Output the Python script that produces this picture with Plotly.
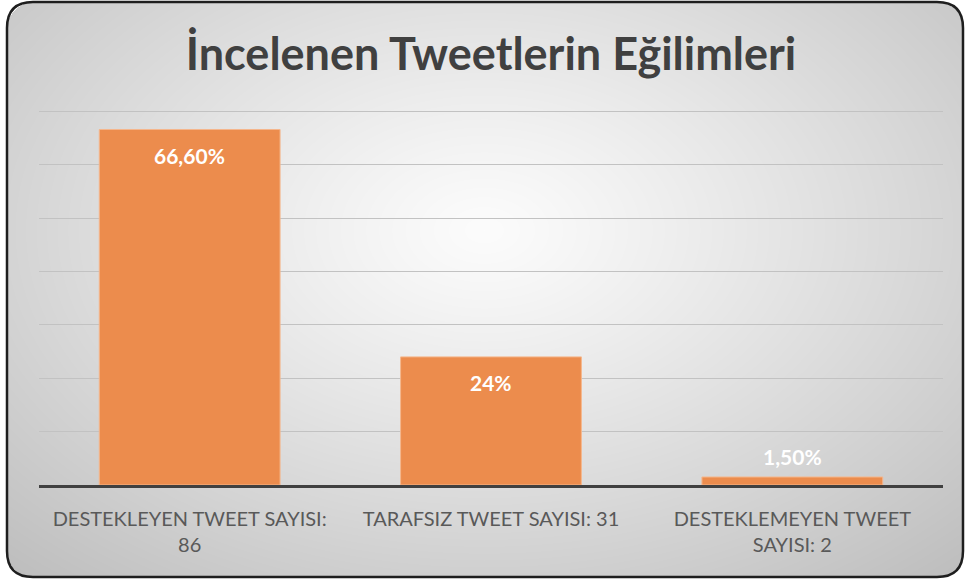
import base64, struct, zlib
import numpy as np
import plotly.graph_objects as go

categories = ["DESTEKLEYEN TWEET SAYISI:<br>86", "TARAFSIZ TWEET SAYISI: 31", "DESTEKLEMEYEN TWEET<br>SAYISI: 2"]
values = [66.6, 24.0, 1.5]
value_labels = ["66,60%", "24%", "1,50%"]
title_text = "İncelenen Tweetlerin Eğilimleri"

W, H = 968, 580
ML, MR, MT, MB = 39, 25, 106, 95
PW, PH = W - ML - MR, H - MT - MB
FONT = "Lato, Carlito, Calibri, sans-serif"


def px_to_paper(x, y):
    return (x - ML) / PW, 1 - (y - MT) / PH


def make_bg_png():
    yy, xx = np.mgrid[0:H, 0:W].astype(float)
    cx, cy = 484, 230
    r = np.sqrt(((xx - cx) / 500) ** 2 + ((yy - cy) / 330) ** 2)
    g = 252 - 42 * r ** 1.15
    g = np.clip(g, 0, 255)
    x0, y0, x1, y1, rad = 7, 2, 963, 577, 26
    dx = np.maximum(np.maximum(x0 + rad - xx, xx - (x1 - rad)), 0)
    dy = np.maximum(np.maximum(y0 + rad - yy, yy - (y1 - rad)), 0)
    inside = (dx ** 2 + dy ** 2) <= rad ** 2
    inside &= (xx >= x0) & (xx <= x1) & (yy >= y0) & (yy <= y1)
    a = np.where(inside, 255, 0)
    img = np.stack([g, g, g, a], axis=-1).astype(np.uint8)
    raw = b"".join(b"\x00" + img[i].tobytes() for i in range(H))

    def chunk(t, d):
        c = struct.pack(">I", len(d)) + t + d
        return c + struct.pack(">I", zlib.crc32(t + d) & 0xffffffff)

    png = b"\x89PNG\r\n\x1a\n" + chunk(b"IHDR", struct.pack(">IIBBBBB", W, H, 8, 6, 0, 0, 0))
    png += chunk(b"IDAT", zlib.compress(raw, 9)) + chunk(b"IEND", b"")
    return "data:image/png;base64," + base64.b64encode(png).decode()


fig = go.Figure()
fig.add_trace(go.Bar(
    x=categories, y=values, width=0.6,
    marker=dict(color="#EC8C4D", line=dict(color="#F5B78C", width=1)),
    hoverinfo="skip",
))

for c, v, t in zip(categories, values, value_labels):
    inside = v > 10
    fig.add_annotation(
        x=c, y=v, text=f"<b>{t}</b>", showarrow=False,
        yshift=-26 if inside else 20, yanchor="middle",
        font=dict(family=FONT, size=21, color="white"),
    )

ix0, iy0 = px_to_paper(0, 0)
fig.add_layout_image(dict(
    source=make_bg_png(), xref="paper", yref="paper",
    x=ix0, y=iy0, sizex=W / PW, sizey=H / PH,
    xanchor="left", yanchor="top", sizing="stretch", layer="below",
))

x0, y0, x1, y1, rad = 7, 2, 963, 577, 26
def P(x, y):
    px, py = px_to_paper(x, y)
    return f"{px:.5f},{py:.5f}"
path = (f"M {P(x0 + rad, y0)} L {P(x1 - rad, y0)} Q {P(x1, y0)} {P(x1, y0 + rad)} "
        f"L {P(x1, y1 - rad)} Q {P(x1, y1)} {P(x1 - rad, y1)} "
        f"L {P(x0 + rad, y1)} Q {P(x0, y1)} {P(x0, y1 - rad)} "
        f"L {P(x0, y0 + rad)} Q {P(x0, y0)} {P(x0 + rad, y0)} Z")
fig.add_shape(type="path", path=path, xref="paper", yref="paper",
              line=dict(color="#1e1e1e", width=2.5), layer="above")

fig.update_layout(
    width=W, height=H,
    margin=dict(l=ML, r=MR, t=MT, b=MB),
    paper_bgcolor="white", plot_bgcolor="rgba(0,0,0,0)",
    title=dict(text=f"<b>{title_text}</b>", x=0.5, xref="paper", xanchor="center",
               y=1 - 54 / H, yref="container", yanchor="middle",
               font=dict(family=FONT, size=45, color="#404040")),
    showlegend=False,
    bargap=0.4,
)
fig.update_xaxes(
    showline=True, linecolor="#404040", linewidth=3,
    showgrid=False, ticks="", ticklen=0, ticklabelstandoff=14,
    tickfont=dict(family=FONT, size=20, color="#595959"),
)
fig.update_yaxes(
    range=[0, 71], dtick=10, showgrid=True, gridcolor="#c2c2c2", gridwidth=1,
    showticklabels=False, zeroline=False,
)

fig.write_html("out.html", post_script="document.body.style.margin='0';",
               config={"displayModeBar": False})
